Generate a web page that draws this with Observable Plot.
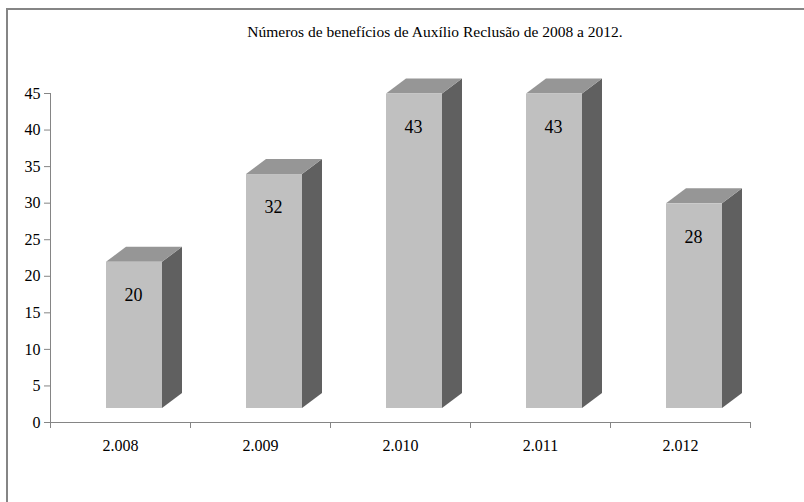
<!DOCTYPE html>
<html>
<head>
<meta charset="utf-8">
<script src="https://cdn.jsdelivr.net/npm/d3@7"></script>
<script src="https://cdn.jsdelivr.net/npm/@observablehq/plot@0.6"></script>
<style>
  html, body { margin: 0; padding: 0; background: #fff; overflow: hidden; }
  #wrap { position: relative; width: 804px; height: 502px; }
  #frame { position: absolute; left: 6px; top: 8px; width: 900px; height: 600px;
           border-left: 2px solid #858585; border-top: 2px solid #858585; box-sizing: border-box; }
  #title { position: absolute; left: 135px; width: 600px; top: 23px; text-align: center;
           font-family: Liberation Serif, Times New Roman, serif; font-size: 15.5px; color: #000; }
  #chart { position: absolute; left: 0; top: 0; }
</style>
</head>
<body>
<div id="wrap">
  <div id="frame"></div>
  <div id="chart"></div>
  <div id="title">Números de benefícios de Auxílio Reclusão de 2008 a 2012.</div>
</div>
<script>
const years = ["2.008", "2.009", "2.010", "2.011", "2.012"];
const values = [20, 32, 43, 43, 28];
const yTicks = [0, 5, 10, 15, 20, 25, 30, 35, 40, 45];

const data = years.map((year, i) => ({year, value: values[i]}));

const FRONT_DX = 14, FRONT_DY = -14;  // front face offset
const DEPTH_X = 20, DEPTH_Y = -15;    // 3D depth
const AXIS = "#858585";
const FONT = "Liberation Serif";

function bandwidthOf(x) {
  return typeof x.bandwidth === "function" ? x.bandwidth() : x.bandwidth;
}

function depthFaces(index, scales) {
  const {x, y} = scales;
  const bw = bandwidthOf(x);
  const g = d3.create("svg:g");
  data.forEach(d => {
    const xl = x(d.year) + FRONT_DX;
    const xr = xl + bw;
    const yt = y(d.value) + FRONT_DY;
    const yb = y(0) + FRONT_DY;
    g.append("polygon")
      .attr("points", [[xr, yt], [xr + DEPTH_X, yt + DEPTH_Y], [xr + DEPTH_X, yb + DEPTH_Y], [xr, yb]].join(" "))
      .attr("fill", "#606060");
    g.append("polygon")
      .attr("points", [[xl, yt], [xl + DEPTH_X, yt + DEPTH_Y], [xr + DEPTH_X, yt + DEPTH_Y], [xr, yt]].join(" "))
      .attr("fill", "#969696");
  });
  return g.node();
}

function axisLines(index, scales, values, dims) {
  const {x, y} = scales;
  const g = d3.create("svg:g").attr("stroke", AXIS).attr("stroke-width", 1);
  const x0 = dims.marginLeft, x1 = dims.width - dims.marginRight;
  const y0 = y(0), yTop = y(45);
  g.append("line").attr("x1", x0 + 0.5).attr("x2", x0 + 0.5).attr("y1", yTop).attr("y2", y0);
  g.append("line").attr("x1", x0).attr("x2", x1).attr("y1", y0 + 0.5).attr("y2", y0 + 0.5);
  const step = (x1 - x0) / years.length;
  for (let i = 0; i <= years.length; i++) {
    const px = Math.round(x0 + i * step) + 0.5;
    g.append("line").attr("x1", px).attr("x2", px).attr("y1", y0).attr("y2", y0 + 6);
  }
  return g.node();
}

const chart = Plot.plot({
  width: 804,
  height: 502,
  marginLeft: 50,
  marginRight: 54,
  marginTop: 93,
  marginBottom: 80,
  style: {fontFamily: FONT, fontSize: "16px", color: "#000", background: "transparent"},
  x: {domain: years, paddingInner: 0.6, paddingOuter: 0.3, label: null},
  y: {domain: [0, 45], label: null},
  marks: [
    depthFaces,
    Plot.barY(data, {x: "year", y: "value", fill: "#c0c0c0", dx: FRONT_DX, dy: FRONT_DY}),
    Plot.text(data, {x: "year", y: "value", text: d => String(d.value), dx: FRONT_DX - 1, dy: FRONT_DY + 33,
                     fontSize: 18, fontFamily: FONT, fill: "#000", lineAnchor: "middle"}),
    axisLines,
    Plot.axisY({ticks: yTicks, tickSize: 6, tickPadding: 4, stroke: AXIS, fontSize: 16, fontFamily: FONT, label: null}),
    Plot.axisX({tickSize: 0, tickPadding: 17, fontSize: 16, fontFamily: FONT, label: null})
  ]
});
chart.setAttribute("font-family", FONT);
chart.querySelectorAll("g, text").forEach(t => { t.setAttribute("font-family", FONT); t.style.setProperty("font-family", FONT, "important"); t.style.setProperty("font-variant", "normal", "important"); });
document.getElementById("chart").appendChild(chart);
</script>
</body>
</html>
